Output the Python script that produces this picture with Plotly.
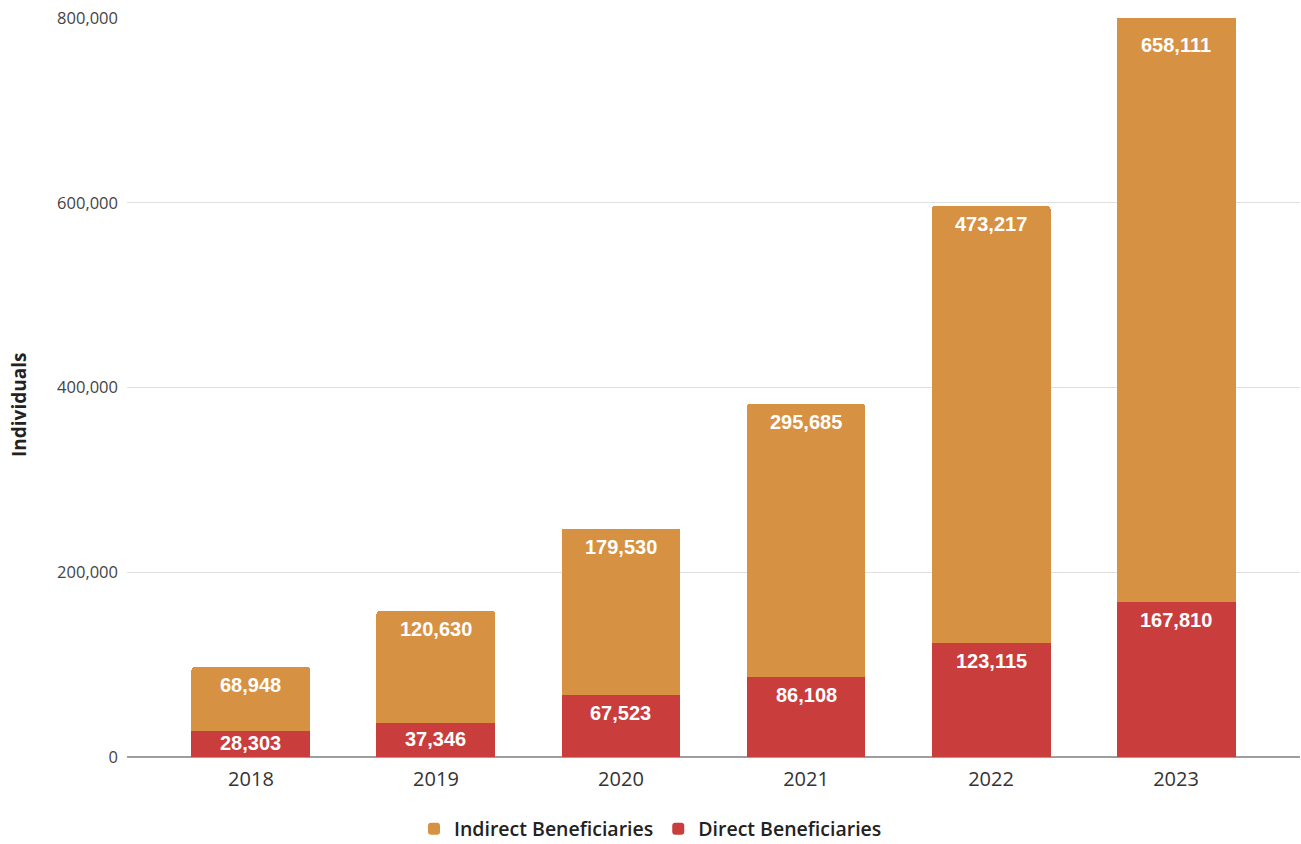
import plotly.graph_objects as go

years = [2018, 2019, 2020, 2021, 2022, 2023]
direct = [28303, 37346, 67523, 86108, 123115, 167810]
indirect = [68948, 120630, 179530, 295685, 473217, 658111]

y_max = 800000
y_ticks = [0, 200000, 400000, 600000, 800000]

color_indirect = "#D79142"
color_direct = "#C93D3C"

WIDTH, HEIGHT = 1301, 844
MARGIN = dict(l=127, r=1, t=18, b=87)
plot_w = WIDTH - MARGIN["l"] - MARGIN["r"]
plot_h = HEIGHT - MARGIN["t"] - MARGIN["b"]
px_per_unit = plot_h / y_max

fig = go.Figure()
fig.add_trace(go.Bar(
    x=years, y=direct, name="Direct Beneficiaries", width=0.643,
    marker=dict(color=color_direct, line=dict(width=0)),
))
fig.add_trace(go.Bar(
    x=years, y=indirect, name="Indirect Beneficiaries", width=0.643,
    marker=dict(color=color_indirect, line=dict(width=0)),
))

label_font = dict(family="Liberation Sans, Arial", size=20, color="white", weight="bold")


def label_shift(seg_value, clipped=False):
    """Pixel offset from a segment's top edge to its label centre."""
    if clipped:
        return -27
    seg_px = seg_value * px_per_unit
    return -min(18, seg_px / 2 - 1)


# value labels sit just below the top edge of each segment
for yr, d, i in zip(years, direct, indirect):
    fig.add_annotation(x=yr, y=d, text=f"{d:,}", showarrow=False,
                       yanchor="middle", yshift=label_shift(d), font=label_font)
    top = d + i
    clipped = top > y_max
    fig.add_annotation(x=yr, y=min(top, y_max), text=f"{i:,}", showarrow=False,
                       yanchor="middle", yshift=label_shift(i, clipped), font=label_font)

# y-axis title, set a little below the plot's vertical centre
fig.add_annotation(
    text="Individuals", textangle=-90, showarrow=False,
    xref="paper", yref="paper",
    x=(19 - MARGIN["l"]) / plot_w, y=(plot_h - (405 - MARGIN["t"])) / plot_h,
    xanchor="center", yanchor="middle",
    font=dict(family="Open Sans", size=19, color="#222", weight="bold"),
)

fig.update_layout(
    width=WIDTH, height=HEIGHT,
    margin=MARGIN,
    plot_bgcolor="white", paper_bgcolor="white",
    barmode="stack", barcornerradius=3,
    legend=dict(orientation="h", x=0.5, xanchor="center", xref="container",
                y=15 / HEIGHT, yanchor="middle", yref="container", traceorder="reversed",
                font=dict(family="Open Sans", size=19.5, color="#222", weight=600)),
    xaxis=dict(
        range=[2017.33, 2023.67], tickvals=years,
        ticktext=[str(y) for y in years],
        showgrid=False, ticks="", showline=False, zeroline=False,
        ticklabelstandoff=8,
        tickfont=dict(family="Open Sans", size=20, color="#333"),
    ),
    yaxis=dict(
        range=[0, y_max], tickvals=y_ticks,
        ticktext=[f"{v:,}" for v in y_ticks],
        showgrid=True, gridcolor="#E0E0E0", gridwidth=1,
        zeroline=True, zerolinecolor="#9E9E9E", zerolinewidth=2,
        showline=False, ticks="", ticklen=0, ticklabelstandoff=8,
        tickfont=dict(family="Open Sans", size=16.5, color="#444"),
    ),
)

fig.write_html("out.html")
